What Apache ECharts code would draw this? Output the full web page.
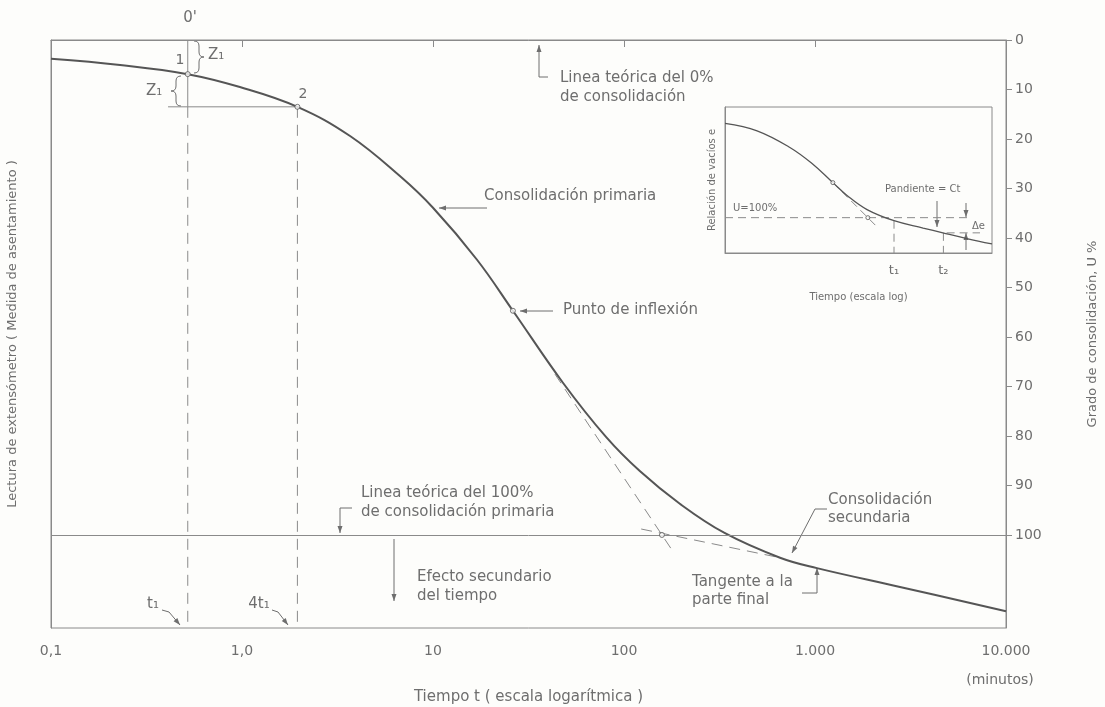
<!DOCTYPE html>
<html>
<head>
<meta charset="utf-8">
<title>Curva de consolidación</title>
<script src="https://cdn.jsdelivr.net/npm/echarts@6/dist/echarts.min.js"></script>
<style>
    html, body { margin: 0; padding: 0; background: #fdfdfb; }
    #chart { width: 1105px; height: 707px; }
</style>
</head>
<body>
<div id="chart"></div>
<script>
// main curve: time t (minutes, log scale) vs degree of consolidation U (%)
const curveT = [0.1, 0.23, 0.52, 0.975, 1.95, 3.68, 6.71, 10, 17, 26.2, 48, 80.5, 121, 196, 336, 656, 1023, 2786, 10000];
const curveU = [3.8, 5.05, 6.9, 9.5, 13.5, 19.4, 27.5, 33.9, 44.4, 54.7, 69.3, 80.2, 87.1, 93.7, 99.6, 104.6, 106.7, 110.5, 115.4];

// marked points: 1, 2, inflexion, intersection of tangents
const markT = [0.52, 1.95, 26.2, 158];
const markU = [6.9, 13.5, 54.7, 100];

// construction lines
const t1 = 0.52;
const t4 = 1.95;
const levelZ = 13.5;
const levelStartT = 0.41;
const steepT = [43.5, 178];
const steepU = [67.5, 103];
const flatT = [123, 656];
const flatU = [98.8, 104.6];

const xTickLabels = ["0,1", "1,0", "10", "100", "1.000", "10.000"];
const uTicks = [0, 10, 20, 30, 40, 50, 60, 70, 80, 90, 100];
const uMax = 118.8;

// inset: void ratio e vs log time (relative units 0..100)
const insetX = [0, 12.0, 24.3, 32.6, 40.4, 45.7, 53.2, 63.3, 74.2, 81.6, 90.6, 100];
const insetY = [88.8, 83.7, 72.3, 61.3, 48.2, 39.4, 29.7, 22.1, 17.1, 13.8, 9.9, 6.2];
const insetMarkX = [40.4, 53.5];
const insetMarkY = [48.2, 24.2];
const insetTanX = [40.4, 57];
const insetTanY = [48.2, 17.8];
const insetU100 = 24.2;
const insetU100End = 92;
const insetT1 = 63.3;
const insetT1Top = 22.1;
const insetT2 = 81.8;
const insetT2Top = 13.8;
const insetDeX = [83, 95.5];

const ink = "#555";
const thin = "#8a8a8a";
const txt = "#6e6e6e";
const font = "DejaVu Sans";

const dashed = { color: thin, width: 1, type: [11, 7] };
const solid = { color: thin, width: 1 };
const insetDash = { color: thin, width: 1, type: [8, 5] };

function seg(xs, ys, style, xi, yi) {
    return {
        type: "line",
        xAxisIndex: xi,
        yAxisIndex: yi,
        data: xs.map((x, i) => [x, ys[i]]),
        symbol: "none",
        silent: true,
        lineStyle: style,
        z: 3,
    };
}

function arrow(pts) {
    const n = pts.length;
    const [x1, y1] = pts[n - 2];
    const [x2, y2] = pts[n - 1];
    const a = Math.atan2(y2 - y1, x2 - x1);
    const L = 7, W = 2.5;
    const head = [
        [x2, y2],
        [x2 - L * Math.cos(a) + W * Math.sin(a), y2 - L * Math.sin(a) - W * Math.cos(a)],
        [x2 - L * Math.cos(a) - W * Math.sin(a), y2 - L * Math.sin(a) + W * Math.cos(a)],
    ];
    return [
        { type: "polyline", shape: { points: pts }, style: { stroke: txt, lineWidth: 1, fill: null } },
        { type: "polygon", shape: { points: head }, style: { fill: txt } },
    ];
}

function label(text, x, y, size, align) {
    return {
        type: "text",
        x: x,
        y: y,
        style: {
            text: text,
            fill: txt,
            font: (size || 15) + "px '" + font + "'",
            align: align || "left",
            verticalAlign: "middle",
        },
    };
}

// curly brace, d = 1 points right, d = -1 points left
function brace(xb, y0, y1, d) {
    const ym = (y0 + y1) / 2;
    const st = { stroke: txt, lineWidth: 1, fill: null };
    const q = (ax, ay, cx, cy, bx, by) => ({
        type: "bezierCurve",
        shape: { x1: ax, y1: ay, cpx1: cx, cpy1: cy, x2: bx, y2: by },
        style: st,
    });
    const l = (ax, ay, bx, by) => ({ type: "line", shape: { x1: ax, y1: ay, x2: bx, y2: by }, style: st });
    return [
        q(xb - 5 * d, y0, xb, y0, xb, y0 + 5),
        l(xb, y0 + 5, xb, ym - 5),
        q(xb, ym - 5, xb, ym, xb + 5 * d, ym),
        q(xb + 5 * d, ym, xb, ym, xb, ym + 5),
        l(xb, ym + 5, xb, y1 - 5),
        q(xb, y1 - 5, xb, y1, xb - 5 * d, y1),
    ];
}

const annotations = [
    label("0'", 190, 18, 15, "center"),
    label("1", 180, 60, 14, "center"),
    label("2", 303, 94, 14, "center"),
    label("Z₁", 208, 55, 15),
    label("Z₁", 146, 91, 15),
    ...brace(199, 41, 73, 1),
    ...brace(176, 76, 106, -1),
    label("Linea teórica del 0%", 560, 78),
    label("de consolidación", 560, 97),
    ...arrow([[548, 77], [539, 77], [539, 45]]),
    label("Consolidación primaria", 484, 196),
    ...arrow([[487, 208], [439, 208]]),
    label("Punto de inflexión", 563, 310),
    ...arrow([[553, 311], [520, 311]]),
    label("Linea teórica del 100%", 361, 493),
    label("de consolidación primaria", 361, 512),
    ...arrow([[352, 508], [340, 508], [340, 533]]),
    label("Efecto secundario", 417, 577),
    label("del tiempo", 417, 596),
    ...arrow([[394, 539], [394, 601]]),
    label("Consolidación", 828, 500),
    label("secundaria", 828, 518),
    ...arrow([[827, 509], [815, 509], [792, 553]]),
    label("Tangente a la", 692, 582),
    label("parte final", 692, 600),
    ...arrow([[802, 593], [817, 593], [817, 568]]),
    label("t₁", 153, 604, 15, "center"),
    ...arrow([[162, 610], [169, 612], [180, 625]]),
    label("4t₁", 259, 604, 15, "center"),
    ...arrow([[272, 610], [278, 612], [288, 625]]),
    label("(minutos)", 1000, 680, 14, "center"),
    // inset annotations
    label("U=100%", 733, 208, 10),
    label("Pandiente = Ct", 885, 189, 10),
    ...arrow([[937, 201], [937, 227]]),
    ...arrow([[966, 203], [966, 217]]),
    ...arrow([[966, 250], [966, 233]]),
    label("Δe", 972, 226, 10),
];

const chart = echarts.init(document.getElementById("chart"), null, { renderer: "canvas" });

const option = {
    backgroundColor: "#fdfdfb",
    animation: false,
    textStyle: { fontFamily: font, color: txt },
    grid: [
        { left: 51, right: 99, top: 40, bottom: 79, show: true, borderColor: thin, borderWidth: 1, outerBoundsMode: "none" },
        { left: 725, top: 107, width: 267, height: 146, show: true, borderColor: thin, borderWidth: 1, outerBoundsMode: "none" },
    ],
    xAxis: [
        {
            gridIndex: 0,
            type: "log",
            logBase: 10,
            min: 0.1,
            max: 10000,
            axisLine: { show: true, lineStyle: solid },
            axisTick: { show: true, length: 7, lineStyle: solid },
            minorTick: { show: false },
            splitLine: { show: false },
            axisLabel: {
                margin: 16,
                fontSize: 14,
                color: txt,
                formatter: (v) => xTickLabels[Math.round(Math.log10(v)) + 1],
            },
            name: "Tiempo t ( escala logarítmica )",
            nameLocation: "middle",
            nameGap: 62,
            nameTextStyle: { fontSize: 15, color: txt },
        },
        {
            gridIndex: 1,
            type: "value",
            min: 0,
            max: 100,
            axisLine: { show: true, lineStyle: solid },
            axisTick: { show: false },
            splitLine: { show: false },
            axisLabel: {
                customValues: [insetT1, insetT2],
                formatter: (v) => (v === insetT1 ? "t₁" : "t₂"),
                margin: 11,
                fontSize: 13,
                color: txt,
            },
            name: "Tiempo (escala log)",
            nameLocation: "middle",
            nameGap: 39,
            nameTextStyle: { fontSize: 10, color: txt },
        },
    ],
    yAxis: [
        {
            gridIndex: 0,
            type: "value",
            min: 0,
            max: uMax,
            inverse: true,
            position: "left",
            axisLine: { show: true, lineStyle: solid },
            axisTick: { show: false },
            axisLabel: { show: false },
            splitLine: { show: false },
            name: "Lectura de extensómetro ( Medida de asentamiento )",
            nameLocation: "middle",
            nameRotate: 90,
            nameGap: 32,
            nameTextStyle: { fontSize: 13, color: txt },
        },
        {
            gridIndex: 0,
            type: "value",
            min: 0,
            max: uMax,
            inverse: true,
            position: "right",
            axisLine: { show: true, lineStyle: solid },
            axisTick: { show: true, length: 6, customValues: uTicks, lineStyle: solid },
            axisLabel: { customValues: uTicks, margin: 9, fontSize: 14, color: txt },
            splitLine: { show: false },
            name: "Grado de consolidación, U %",
            nameLocation: "middle",
            nameRotate: 90,
            nameGap: 80,
            nameTextStyle: { fontSize: 13, color: txt },
        },
        {
            gridIndex: 1,
            type: "value",
            min: 0,
            max: 100,
            axisLine: { show: true, lineStyle: solid },
            axisTick: { show: false },
            axisLabel: { show: false },
            splitLine: { show: false },
            name: "Relación de vacíos e",
            nameLocation: "middle",
            nameRotate: 90,
            nameGap: 8,
            nameTextStyle: { fontSize: 10, color: txt },
        },
    ],
    series: [
        {
            type: "line",
            name: "Consolidación",
            xAxisIndex: 0,
            yAxisIndex: 1,
            data: curveT.map((t, i) => [t, curveU[i]]),
            smooth: 0.4,
            symbol: "none",
            lineStyle: { color: ink, width: 2 },
            z: 4,
            markLine: {
                silent: true,
                symbol: "none",
                label: { show: false },
                lineStyle: { color: thin, width: 1, type: "solid" },
                data: [{ yAxis: 100 }],
            },
        },
        seg([levelStartT, t4], [levelZ, levelZ], solid, 0, 1),
        seg([t1, t1], [0, levelZ], solid, 0, 1),
        seg([t1, t1], [levelZ, uMax], dashed, 0, 1),
        seg([t4, t4], [levelZ, uMax], dashed, 0, 1),
        seg(steepT, steepU, dashed, 0, 1),
        seg(flatT, flatU, dashed, 0, 1),
        {
            type: "scatter",
            xAxisIndex: 0,
            yAxisIndex: 1,
            data: markT.map((t, i) => [t, markU[i]]),
            symbol: "circle",
            symbolSize: 5,
            itemStyle: { color: "#fdfdfb", borderColor: ink, borderWidth: 1 },
            z: 6,
        },
        // inset
        {
            type: "line",
            xAxisIndex: 1,
            yAxisIndex: 2,
            data: insetX.map((x, i) => [x, insetY[i]]),
            smooth: 0.4,
            symbol: "none",
            lineStyle: { color: ink, width: 1.3 },
            z: 4,
        },
        seg([0, insetU100End], [insetU100, insetU100], insetDash, 1, 2),
        seg(insetTanX, insetTanY, insetDash, 1, 2),
        seg([insetT1, insetT1], [insetT1Top, 0], insetDash, 1, 2),
        seg([insetT2, insetT2], [insetT2Top, 0], insetDash, 1, 2),
        seg(insetDeX, [insetT2Top, insetT2Top], insetDash, 1, 2),
        {
            type: "scatter",
            xAxisIndex: 1,
            yAxisIndex: 2,
            data: insetMarkX.map((x, i) => [x, insetMarkY[i]]),
            symbol: "circle",
            symbolSize: 4,
            itemStyle: { color: "#fdfdfb", borderColor: ink, borderWidth: 1 },
            z: 6,
        },
    ],
    graphic: { elements: annotations },
};

chart.setOption(option);
</script>
</body>
</html>
